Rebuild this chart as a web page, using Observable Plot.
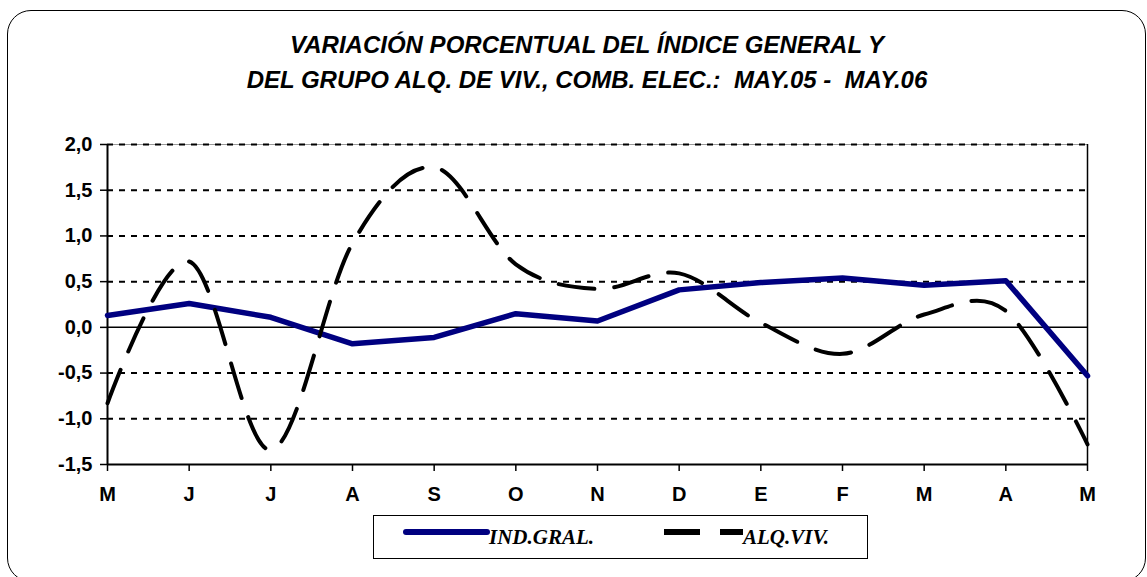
<!DOCTYPE html>
<html>
<head>
<meta charset="utf-8">
<script src="https://cdn.jsdelivr.net/npm/d3@7"></script>
<script src="https://cdn.jsdelivr.net/npm/@observablehq/plot@0.6"></script>
<style>
  html, body { margin: 0; padding: 0; background: #fff; }
  #wrap { position: relative; width: 1147px; height: 577px; overflow: hidden; background: #fff; }
  #frame { position: absolute; left: 7px; top: 10px; width: 1139px; height: 572px; box-sizing: border-box;
           border: 1.5px solid #000; border-radius: 24px; }
  .title { position: absolute; left: 0; width: 1174px; text-align: center; white-space: pre;
           font-family: "Liberation Sans", Arial, sans-serif; font-style: italic; font-weight: bold;
           font-size: 24px; line-height: 28px; color: #000; }
  #chart { position: absolute; left: 0; top: 120px; }
  #legend { position: absolute; left: 373px; top: 515px; width: 495px; height: 44px; box-sizing: border-box;
            border: 1.5px solid #000; background: #fff; }
  .lg { position: absolute; top: 8px; font-family: "Liberation Serif", "Times New Roman", serif;
        font-style: italic; font-weight: bold; font-size: 21px; line-height: 26px; color: #000; white-space: pre; }
  .sw { position: absolute; top: 0; }
</style>
</head>
<body>
<div id="wrap">
  <div id="frame"></div>
  <div class="title" id="t1" style="top:31px"></div>
  <div class="title" id="t2" style="top:66px"></div>
  <div id="chart"></div>
  <div id="legend">
    <svg class="sw" width="495" height="44">
      <line x1="32" y1="16" x2="113" y2="16" stroke="#000080" stroke-width="6" stroke-linecap="round"></line>
      <line x1="290" y1="16" x2="369" y2="16" stroke="#000" stroke-width="6" stroke-dasharray="36,20"></line>
    </svg>
    <div class="lg" id="l1" style="left:115px"></div>
    <div class="lg" id="l2" style="left:369px"></div>
  </div>
</div>
<script>
// ---- data ----
const titleLines = ["VARIACIÓN PORCENTUAL DEL ÍNDICE GENERAL Y",
                    "DEL GRUPO ALQ. DE VIV., COMB. ELEC.:  MAY.05 -  MAY.06"];
const months = ["M", "J", "J", "A", "S", "O", "N", "D", "E", "F", "M", "A", "M"];
const indGral = [0.13, 0.26, 0.11, -0.18, -0.11, 0.15, 0.07, 0.41, 0.49, 0.54, 0.46, 0.51, -0.53];
const alqViv = [-0.83, 0.72, -1.34, 0.92, 1.75, 0.69, 0.42, 0.59, 0.05, -0.29, 0.14, 0.18, -1.28];
const yTicks = [-1.5, -1.0, -0.5, 0.0, 0.5, 1.0, 1.5, 2.0];
const seriesNames = ["IND.GRAL.", "ALQ.VIV."];

document.getElementById("t1").textContent = titleLines[0];
document.getElementById("t2").textContent = titleLines[1];
document.getElementById("l1").textContent = seriesNames[0];
document.getElementById("l2").textContent = seriesNames[1];

const data = months.map((m, i) => ({i, m, ind: indGral[i], alq: alqViv[i]}));
const fmt = d => d.toFixed(1).replace(".", ",");

const chart = Plot.plot({
  width: 1147,
  height: 390,
  marginLeft: 107,
  marginRight: 60,
  marginTop: 24,
  marginBottom: 46,
  style: {fontFamily: "'Liberation Sans', Arial, sans-serif", background: "transparent", color: "#000"},
  x: {domain: [0, months.length - 1]},
  y: {domain: [yTicks[0], yTicks[yTicks.length - 1]]},
  marks: [
    Plot.ruleY([yTicks[yTicks.length - 1]], {stroke: "#999", strokeWidth: 1}),
    Plot.ruleY(yTicks.filter(d => d !== 0 && d !== yTicks[0]), {stroke: "#000", strokeWidth: 2, strokeDasharray: "6,6"}),
    Plot.ruleY([0], {stroke: "#000", strokeWidth: 1.5}),
    Plot.ruleY([yTicks[0]], {stroke: "#000", strokeWidth: 2}),
    Plot.ruleX([0], {stroke: "#000", strokeWidth: 2}),
    Plot.ruleX([months.length - 1], {stroke: "#000", strokeWidth: 1.5}),
    Plot.axisY({ticks: yTicks, tickSize: 7, tickPadding: 8, tickFormat: fmt, fontSize: 20, fontWeight: "bold",
                strokeWidth: 1.5, label: null}),
    Plot.axisX({ticks: d3.range(months.length), tickSize: 7, tickPadding: 15, tickFormat: i => months[i],
                fontSize: 20, fontWeight: "bold", strokeWidth: 1.5, label: null}),
    Plot.line(data, {x: "i", y: "ind", stroke: "#000080", strokeWidth: 5.5, strokeLinejoin: "round"}),
    Plot.line(data, {x: "i", y: "alq", curve: "cardinal", tension: 0, stroke: "#000", strokeWidth: 4,
                     strokeDasharray: "36,20"})
  ]
});
document.getElementById("chart").appendChild(chart);
</script>
</body>
</html>
